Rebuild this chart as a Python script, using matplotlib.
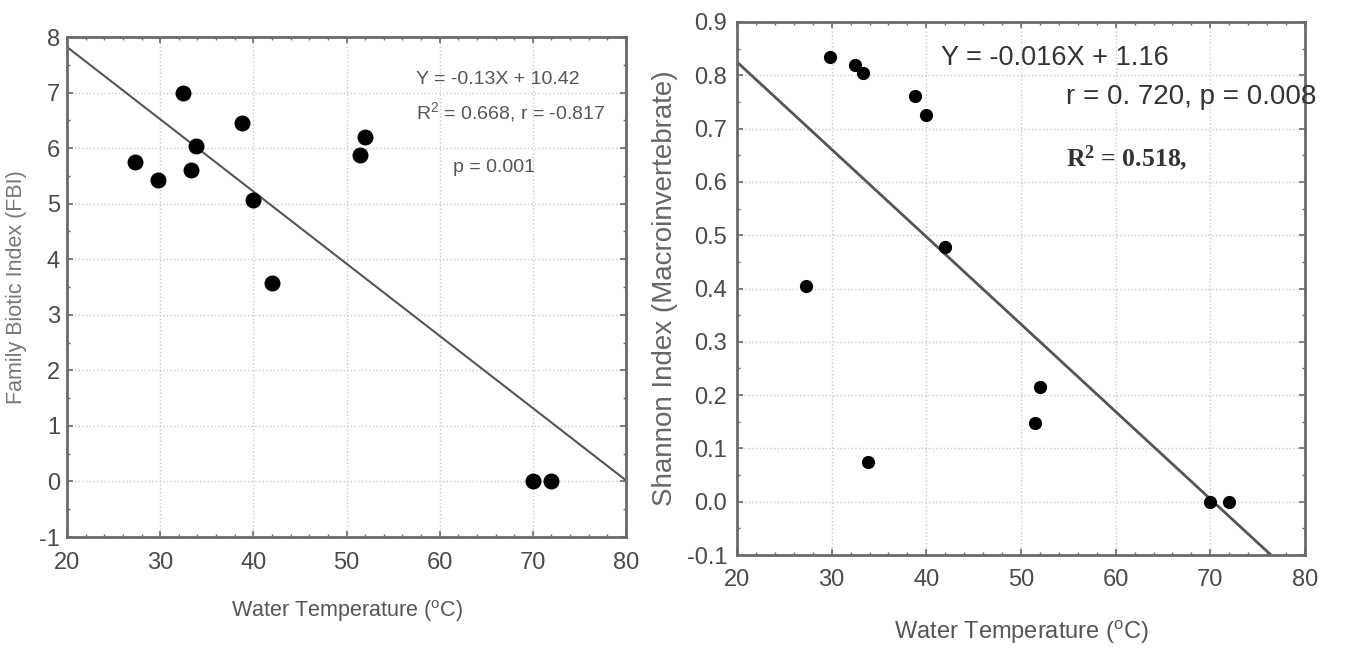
import matplotlib
matplotlib.use("Agg")
import matplotlib.pyplot as plt
import numpy as np
from matplotlib.ticker import MultipleLocator, FormatStrFormatter

# Data
temp = [27.3, 29.8, 32.5, 33.3, 33.8, 38.8, 40.0, 42.0, 51.5, 52.0, 70.0, 72.0]
fbi = [5.75, 5.42, 7.0, 5.6, 6.03, 6.45, 5.07, 3.57, 5.88, 6.2, 0.0, 0.0]
temp_sh = [27.3, 29.8, 32.5, 33.3, 33.8, 38.8, 40.0, 42.0, 51.5, 52.0, 70.0, 72.0]
shannon = [0.405, 0.835, 0.82, 0.805, 0.075, 0.762, 0.725, 0.478, 0.148, 0.215, 0.0, 0.0]
fbi_fit = (-0.13, 10.42)
sh_fit = (-0.0164, 1.153)
xticks = [20, 30, 40, 50, 60, 70, 80]
fbi_yticks = [-1, 0, 1, 2, 3, 4, 5, 6, 7, 8]
sh_yticks = [-0.1, 0.0, 0.1, 0.2, 0.3, 0.4, 0.5, 0.6, 0.7, 0.8, 0.9]

plt.rcParams['font.family'] = ['Liberation Sans', 'DejaVu Sans']

W, H = 1354, 648
fig = plt.figure(figsize=(W/100, H/100), dpi=100)
ax1 = fig.add_axes([67/W, 1-537/H, (626-67)/W, (537-37)/H])
ax2 = fig.add_axes([737/W, 1-555/H, (1305-737)/W, (555-22)/H])

frame_col = '#6a6a6a'
tick_col = '#4a4a4a'

def style(ax, ylim, yticks, ymin_step, fs, fmt, xpad, ypad):
    ax.set_xlim(20, 80)
    ax.set_ylim(*ylim)
    ax.set_xticks(xticks)
    ax.set_yticks(yticks)
    ax.xaxis.set_minor_locator(MultipleLocator(2))
    ax.yaxis.set_minor_locator(MultipleLocator(ymin_step))
    ax.yaxis.set_major_formatter(FormatStrFormatter(fmt))
    ax.grid(True, which='major', color='#c8c8c8', linestyle=':', linewidth=1.0)
    for s in ax.spines.values():
        s.set_color(frame_col)
        s.set_linewidth(2.0)
    ax.tick_params(which='both', direction='in', top=True, right=True,
                   color=frame_col, labelcolor=tick_col, labelsize=fs)
    ax.tick_params(which='major', length=4, width=1.2)
    ax.tick_params(which='minor', length=2.5, width=1.0)
    ax.tick_params(axis='x', which='major', pad=xpad)
    ax.tick_params(axis='y', which='major', pad=ypad)

style(ax1, (-1, 8), fbi_yticks, 0.5, 17, '%g', 11, 5)
style(ax2, (-0.1, 0.9), sh_yticks, 0.05, 17, '%.1f', 10, 7)

xl = np.array([20, 80])
ax1.plot(xl, fbi_fit[0]*xl + fbi_fit[1], color='#555555', linewidth=1.5, zorder=2)
ax1.scatter(temp, fbi, s=110, color='black', zorder=3)
ax1.set_xlabel('Water Temperature ($\\mathregular{^{o}}$C)', fontsize=15.5, color='#555555', labelpad=17)
ax1.set_ylabel('Family Biotic Index (FBI)', fontsize=15.5, color='#777777', labelpad=9)
ax1.text(0.625, 0.914, 'Y = -0.13X + 10.42', transform=ax1.transAxes, fontsize=14, color='#555555', va='center')
ax1.text(0.625, 0.85, 'R$\\mathregular{^2}$ = 0.668, r = -0.817', transform=ax1.transAxes, fontsize=14, color='#555555', va='center')
ax1.text(0.69, 0.738, 'p = 0.001', transform=ax1.transAxes, fontsize=14, color='#555555', va='center')

ax2.plot(xl, sh_fit[0]*xl + sh_fit[1], color='#555555', linewidth=2.0, zorder=2, clip_on=True)
ax2.scatter(temp_sh, shannon, s=72, color='black', zorder=3)
ax2.set_xlabel('Water Temperature ($\\mathregular{^{o}}$C)', fontsize=17, color='#555555', labelpad=20)
ax2.set_ylabel('Shannon Index (Macroinvertebrate)', fontsize=20, color='#666666', labelpad=6)
ax2.text(0.36, 0.932, 'Y = -0.016X + 1.16', transform=ax2.transAxes, fontsize=19.5, color='#333333', va='center')
ax2.text(0.58, 0.859, 'r = 0. 720, p = 0.008', transform=ax2.transAxes, fontsize=20, color='#333333', va='center')
ax2.text(0.58, 0.745, 'R$\\mathregular{^2}$ = 0.518,', transform=ax2.transAxes, fontsize=18.5, color='#333333', va='center',
         family='Liberation Serif', fontweight='bold')

fig.savefig('out.png', dpi=100)
